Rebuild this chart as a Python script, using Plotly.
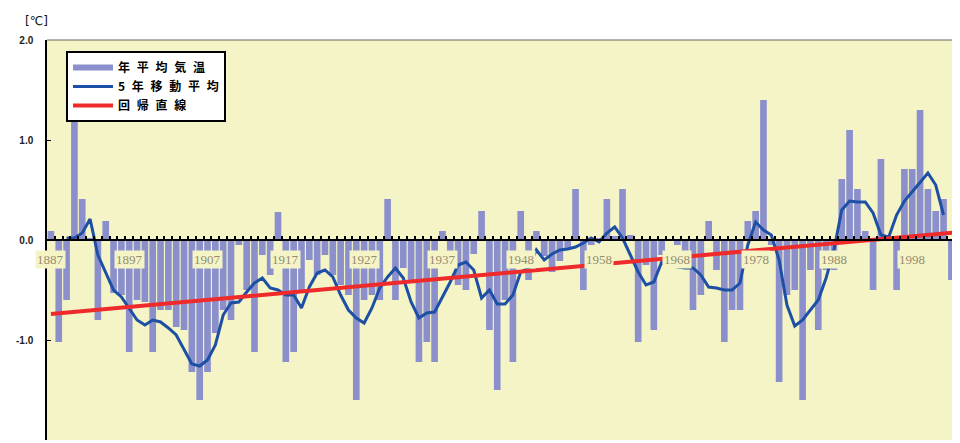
import plotly.graph_objects as go

# ---- data ----
years = list(range(1887, 1945)) + list(range(1946, 2005))
year_labels = [str(y) for y in years]

anomaly = [
    0.09, -1.02, -0.60, 1.30, 0.41, 0.02, -0.80, 0.19, -0.53, -0.55,
    -1.12, -0.60, -0.62, -1.12, -0.70, -0.70, -0.87, -0.90, -1.32, -1.60,
    -1.32, -0.93, -0.70, -0.80, -0.05, -0.50, -1.12, -0.15, -0.35, 0.28,
    -1.22, -1.12, -0.50, -0.20, -0.35, -0.15, -0.35, -0.45, -0.55, -1.60,
    -0.60, -0.55, -0.60, 0.41, -0.60, -0.28, -0.40, -1.22, -1.02, -1.22,
    0.09, -0.25, -0.45, -0.50, -0.14, 0.29, -0.90, -1.50, -0.60, -1.22,
    0.29, -0.40, 0.09, -0.16, -0.32, -0.21, -0.10, 0.51, -0.50, -0.05,
    0.02, 0.41, 0.04, 0.51, 0.05, -1.02, -0.25, -0.90, -0.15, 0.00,
    -0.05, -0.12, -0.70, -0.55, 0.19, -0.30, -1.02, -0.70, -0.70, 0.19,
    0.29, 1.40, -0.05, -1.42, -0.55, -0.50, -1.60, -0.30, -0.90, -0.30,
    -0.30, 0.61, 1.10, 0.51, 0.09, -0.50, 0.81, 0.00, -0.50, 0.71,
    0.71, 1.30, 0.51, 0.29, 0.41, -0.40, 0.41,
]

moving_avg = [
    None, None, 0.02, 0.02, 0.07, 0.21, -0.15, -0.32, -0.50, -0.57,
    -0.68, -0.80, -0.85, -0.80, -0.82, -0.88, -0.95, -1.10, -1.24, -1.26,
    -1.20, -1.05, -0.75, -0.63, -0.62, -0.52, -0.43, -0.38, -0.48, -0.50,
    -0.55, -0.55, -0.68, -0.47, -0.33, -0.30, -0.37, -0.55, -0.70, -0.78,
    -0.83, -0.68, -0.48, -0.37, -0.28, -0.38, -0.62, -0.78, -0.73, -0.72,
    -0.57, -0.42, -0.25, -0.22, -0.30, -0.58, -0.50, -0.64, -0.64, -0.55,
    -0.32, -0.28, -0.10, -0.20, -0.14, -0.10, -0.09, -0.07, -0.03, 0.02,
    -0.02, 0.07, 0.13, 0.02, -0.15, -0.32, -0.45, -0.42, -0.22, -0.25,
    -0.27, -0.28, -0.28, -0.35, -0.47, -0.48, -0.50, -0.50, -0.43, -0.05,
    0.18, 0.10, 0.05, -0.20, -0.65, -0.86, -0.80, -0.70, -0.60, -0.38,
    -0.10, 0.30, 0.39, 0.38, 0.38, 0.27, 0.05, 0.03, 0.25, 0.39,
    0.48, 0.58, 0.67, 0.55, 0.25, None, None,
]

trend_first = -0.74   # regression line value at the first year
trend_last = 0.08     # regression line value at the last year

y_tick_values = [-2, -1, 0, 1, 2]
y_tick_text = ["-2.0", "-1.0", "0.0", "1.0", "2.0"]
label_step = 10

GAP = "\u2002\u200a"
name_bars = GAP.join("年平均気温")
name_ma = GAP.join("5年移動平均")
name_trend = GAP.join("回帰直線")

# ---- styles ----
BAR_COLOR = "#8b90cc"
MA_COLOR = "#1d50a5"
TREND_COLOR = "#ee2a2a"
PLOT_BG = "#f4f4c6"

fig = go.Figure()

fig.add_trace(go.Bar(
    x=year_labels, y=anomaly, name=name_bars,
    marker=dict(color=BAR_COLOR, line=dict(width=0)),
    showlegend=False,
))
# legend key for the bars (drawn as a thick line like the original)
fig.add_trace(go.Scatter(
    x=[None], y=[None], mode="lines", name=name_bars,
    line=dict(color=BAR_COLOR, width=6),
))
fig.add_trace(go.Scatter(
    x=year_labels, y=moving_avg, mode="lines", name=name_ma,
    line=dict(color=MA_COLOR, width=3),
))
fig.add_trace(go.Scatter(
    x=[year_labels[0], year_labels[-1]], y=[trend_first, trend_last],
    mode="lines", name=name_trend,
    line=dict(color=TREND_COLOR, width=4),
))

annotations = []
for k in range(0, len(year_labels), label_step):
    annotations.append(dict(
        x=k, y=-0.19, xref="x", yref="y", text=year_labels[k], showarrow=False,
        xanchor="center", yanchor="middle",
        bgcolor=PLOT_BG, borderpad=1,
        font=dict(family="Liberation Serif", size=13, color="#968c70"),
    ))
annotations.append(dict(
    x=-0.011, y=1.0475, xref="paper", yref="paper", text="[℃]",
    xanchor="center", yanchor="middle",
    showarrow=False, font=dict(family="DejaVu Sans", size=12, color="#111"),
))

fig.update_layout(
    width=952, height=435, autosize=False,
    margin=dict(l=39, r=0, t=32, b=3, pad=0),
    paper_bgcolor="white", plot_bgcolor=PLOT_BG,
    bargap=0.15,
    showlegend=True,
    legend=dict(
        x=0.0208, y=0.9725, xanchor="left", yanchor="top",
        bgcolor="white", bordercolor="black", borderwidth=2,
        font=dict(family="Noto Sans CJK JP", size=12, color="black", weight="bold"),
        tracegroupgap=0, itemwidth=40,
    ),
    annotations=annotations,
    shapes=[dict(type="line", xref="paper", yref="paper", x0=0, x1=1, y0=1, y1=1,
                 line=dict(color="#666", width=1))],
    xaxis=dict(
        type="category", range=[-0.5, 116.1],
        anchor="free", position=0.5,
        showline=True, linecolor="black", linewidth=1.5,
        ticks="inside", tickson="boundaries", ticklen=3, tickwidth=2,
        tickcolor="black", dtick=1, showticklabels=False,
        showgrid=False, zeroline=False,
    ),
    yaxis=dict(
        range=[-2, 2], tickvals=y_tick_values, ticktext=y_tick_text,
        ticks="inside", ticklen=4, tickcolor="black",
        showline=True, linecolor="black", linewidth=1.5,
        showgrid=False, zeroline=False, ticklabelstandoff=10,
        tickfont=dict(family="Liberation Sans", size=10, color="#222", weight="bold"),
    ),
)

fig.write_html("out.html")
